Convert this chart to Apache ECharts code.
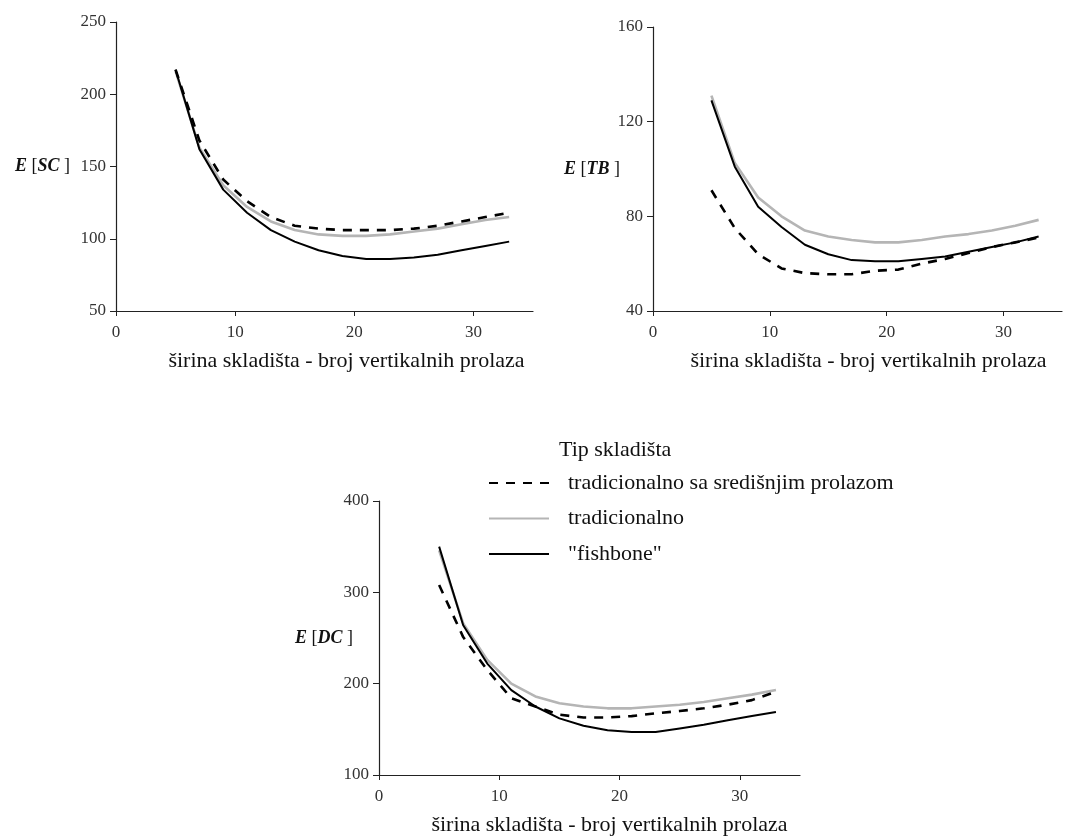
<!DOCTYPE html>
<html>
<head>
<meta charset="utf-8">
<script src="https://cdn.jsdelivr.net/npm/echarts@6/dist/echarts.min.js"></script>
<style>
  html, body { margin: 0; padding: 0; background: #fff; }
  #main { width: 1073px; height: 837px; }
</style>
</head>
<body>
<div id="main"></div>
<script>
// broj vertikalnih prolaza
var prolazi = [5, 7, 9, 11, 13, 15, 17, 19, 21, 23, 25, 27, 29, 31, 33];
var naziviSerija = ['tradicionalno sa središnjim prolazom', 'tradicionalno', '"fishbone"'];

// E[SC]
var scSredisnji = [217, 168, 141, 126, 115, 109, 107, 106, 106, 106, 107, 109, 112, 115, 118];
var scTradicionalno = [216, 163, 137, 122, 112, 106, 103, 102, 102, 103, 105, 107, 110, 113, 115];
var scFishbone = [217, 162, 134, 118, 106, 98, 92, 88, 86, 86, 87, 89, 92, 95, 98];

// E[TB]
var tbSredisnji = [91, 75, 64, 58, 56, 55.5, 55.5, 57, 57.5, 60, 62, 64.5, 67, 69, 71];
var tbTradicionalno = [131, 102.5, 88, 80, 74, 71.5, 70, 69, 69, 70, 71.5, 72.5, 74, 76, 78.5];
var tbFishbone = [129, 101, 84, 75.5, 68, 64, 61.5, 61, 61, 62, 63, 65, 67, 69, 71.5];

// E[DC]
var dcSredisnji = [308, 251, 215, 184, 175, 166, 163, 163, 164.5, 167.5, 170, 173, 177, 182, 191];
var dcTradicionalno = [346, 266, 226, 200, 186, 178.5, 175, 173, 173, 175, 177, 180, 184, 188, 193];
var dcFishbone = [350, 264, 222, 193, 175, 162, 154, 149, 147, 147, 151, 155, 160, 164.5, 169];

var xTicks = [0, 10, 20, 30];
var osaX = 'širina skladišta - broj vertikalnih prolaza';
var font = 'Liberation Serif';

function parovi(vals) {
  var out = [];
  for (var i = 0; i < prolazi.length; i++) {
    out.push([prolazi[i], vals[i]]);
  }
  return out;
}

function xOs(grid, shift) {
  return {
    type: 'value', gridIndex: grid, min: 0, max: 35,
    name: osaX, nameLocation: 'middle', nameGap: 39,
    nameTextStyle: { fontFamily: font, fontSize: 22, color: '#111', padding: shift > 0 ? [0, 0, 0, shift * 2] : [0, -shift * 2, 0, 0] },
    axisLine: { lineStyle: { color: '#222', width: 1.2 } },
    axisTick: { show: true, inside: false, length: 5, customValues: xTicks, lineStyle: { color: '#222' } },
    axisLabel: { customValues: xTicks, margin: 13, fontFamily: font, fontSize: 17, color: '#333' },
    splitLine: { show: false }
  };
}

function yOs(grid, min, max, step, label, gap) {
  return {
    type: 'value', gridIndex: grid, min: min, max: max, interval: step,
    name: label, nameLocation: 'middle', nameRotate: 0, nameGap: gap,
    nameMoveOverlap: false,
    nameTextStyle: {
      fontFamily: font, fontSize: 18, color: '#111',
      rich: { b: { fontFamily: font, fontSize: 18, fontWeight: 'bold', fontStyle: 'italic', color: '#111' } }
    },
    axisLine: { show: true, lineStyle: { color: '#222', width: 1.2 } },
    axisTick: { show: true, inside: false, length: 6, lineStyle: { color: '#222' } },
    axisLabel: { margin: 10, fontFamily: font, fontSize: 17, color: '#333' },
    splitLine: { show: false }
  };
}

function serije(grid, sred, trad, fish) {
  return [
    { name: naziviSerija[1], type: 'line', xAxisIndex: grid, yAxisIndex: grid, data: parovi(trad),
      symbol: 'none', lineStyle: { color: '#b5b5b5', width: 2.6 }, itemStyle: { color: '#b5b5b5' }, z: 2 },
    { name: naziviSerija[2], type: 'line', xAxisIndex: grid, yAxisIndex: grid, data: parovi(fish),
      symbol: 'none', lineStyle: { color: '#000', width: 2 }, itemStyle: { color: '#000' }, z: 3 },
    { name: naziviSerija[0], type: 'line', xAxisIndex: grid, yAxisIndex: grid, data: parovi(sred),
      symbol: 'none', lineStyle: { color: '#000', width: 2.6, type: [9, 8] }, itemStyle: { color: '#000' }, z: 4 }
  ];
}

var chart = echarts.init(document.getElementById('main'));
chart.setOption({
  backgroundColor: '#fff',
  animation: false,
  textStyle: { fontFamily: font },
  title: {
    text: 'Tip skladišta', left: 554, top: 434,
    textStyle: { fontFamily: font, fontSize: 22, fontWeight: 'normal', color: '#111' }
  },
  legend: {
    data: naziviSerija, orient: 'vertical', left: 483, top: 467,
    itemWidth: 60, itemHeight: 22, itemGap: 13.5,
    itemStyle: { opacity: 0 },
    textStyle: { fontFamily: font, fontSize: 22, color: '#111', padding: [0, 0, 0, 14] }
  },
  grid: [
    { left: 116, top: 22, width: 417, height: 289 },
    { left: 653, top: 27, width: 409, height: 284 },
    { left: 379, top: 501, width: 421, height: 274 }
  ],
  xAxis: [xOs(0, 22), xOs(1, 11), xOs(2, 20)],
  yAxis: [
    yOs(0, 50, 250, 50, '{b|E} [{b|SC} ]', 46),
    yOs(1, 40, 160, 40, '{b|E} [{b|TB} ]', 33),
    yOs(2, 100, 400, 100, '{b|E} [{b|DC} ]', 26)
  ],
  series: serije(0, scSredisnji, scTradicionalno, scFishbone)
    .concat(serije(1, tbSredisnji, tbTradicionalno, tbFishbone))
    .concat(serije(2, dcSredisnji, dcTradicionalno, dcFishbone))
});
</script>
</body>
</html>
